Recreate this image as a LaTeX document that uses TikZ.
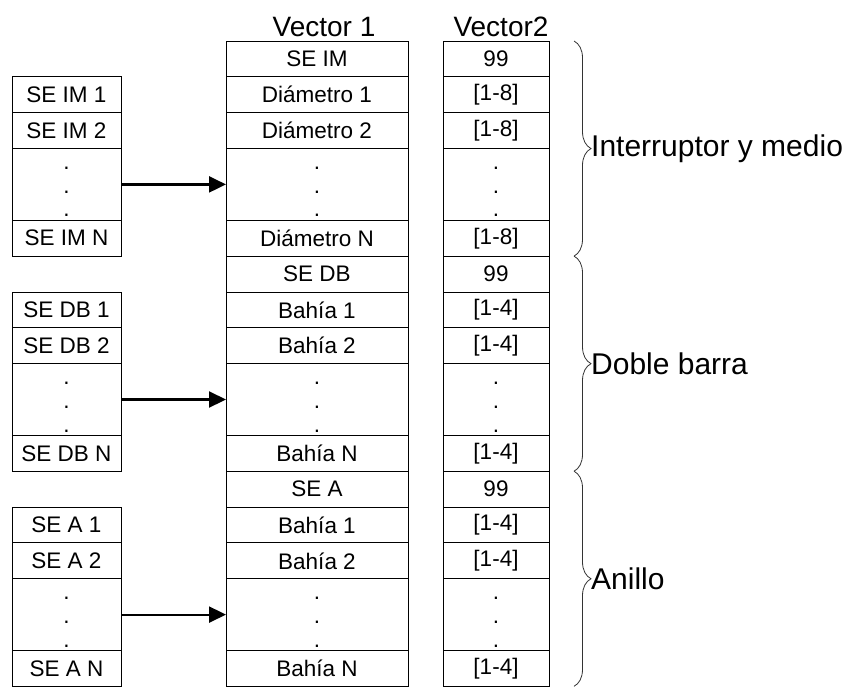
\documentclass[tikz,border=0pt]{standalone}
\usepackage{fontspec}
\setmainfont{Liberation Sans}
\usetikzlibrary{positioning,arrows.meta,decorations.pathreplacing}

% three stacked dots for the elided rows
\newcommand{\dotcol}{\def\arraystretch{0.97}%
  \raisebox{-4pt}[\height][\depth]{\begin{tabular}{@{}c@{}}.\\.\\.\end{tabular}}}

\tikzset{
  cell/.style={draw, line width=0.9pt, inner sep=0pt, outer sep=0pt,
    minimum height=35.85pt, font=\fontsize{22.5}{24.5}\selectfont},
  tall/.style={minimum height=71.7pt},
  vecone/.style={cell, minimum width=182pt},
  vectwo/.style={cell, minimum width=106pt},
  sub/.style={cell, minimum width=109pt},
  title/.style={inner sep=4pt, font=\fontsize{28}{30}\selectfont},
  group/.style={anchor=west, inner sep=0pt, font=\fontsize{30}{32}\selectfont},
  link/.style={-{Triangle[length=17pt,width=16pt]}, line width=2.2pt},
  brace/.style={decorate, decoration={brace, amplitude=17pt}, line width=0.8pt, black!80}
}

\begin{document}
\begin{tikzpicture}[x=1pt, y=-1pt]
    \useasboundingbox (0,0) rectangle (846,688);

    % One block of rows per substation type
    \foreach \s/\head/\item/\range/\grp in {0/SE IM/Diámetro/{[1-8]}/Interruptor y medio,
        1/SE DB/Bahía/{[1-4]}/Doble barra, 2/SE A/Bahía/{[1-4]}/Anillo} {
        % Vector 1
        \node[vecone] (vec1-\s-0) at (317, {41+215.1*\s+17.93}) {\head};
        \node[vecone, below=0pt of vec1-\s-0] (vec1-\s-1) {\item\ 1};
        \node[vecone, below=0pt of vec1-\s-1] (vec1-\s-2) {\item\ 2};
        \node[vecone, tall, below=0pt of vec1-\s-2] (vec1-\s-3) {\dotcol};
        \node[vecone, below=0pt of vec1-\s-3] (vec1-\s-4) {\item\ N};

        % Vector 2
        \node[vectwo] (vec2-\s-0) at (496, {41+215.1*\s+17.93}) {99};
        \node[vectwo, below=0pt of vec2-\s-0] (vec2-\s-1) {\range};
        \node[vectwo, below=0pt of vec2-\s-1] (vec2-\s-2) {\range};
        \node[vectwo, tall, below=0pt of vec2-\s-2] (vec2-\s-3) {\dotcol};
        \node[vectwo, below=0pt of vec2-\s-3] (vec2-\s-4) {\range};

        % list of substations
        \node[sub] (sub-\s-1) at (66.5, {41+215.1*\s+35.85+17.93}) {\head\ 1};
        \node[sub, below=0pt of sub-\s-1] (sub-\s-2) {\head\ 2};
        \node[sub, tall, below=0pt of sub-\s-2] (sub-\s-3) {\dotcol};
        \node[sub, below=0pt of sub-\s-3] (sub-\s-4) {\head\ N};

        \draw[link] (sub-\s-3.east) -- (vec1-\s-3.west);

        % brace and group name
        \draw[brace] ([xshift=25pt]vec2-\s-0.north east) -- ([xshift=25pt]vec2-\s-4.south east);
        \node[group] (grp-\s) at ([xshift=42pt]vec2-\s-3.north east) {\grp};
    }

    % Headings
    \node[title, above=0pt of vec1-0-0, xshift=7pt] (head1) {Vector 1};
    \node[title, above=0pt of vec2-0-0, xshift=5pt] (head2) {Vector2};
\end{tikzpicture}
\end{document}
